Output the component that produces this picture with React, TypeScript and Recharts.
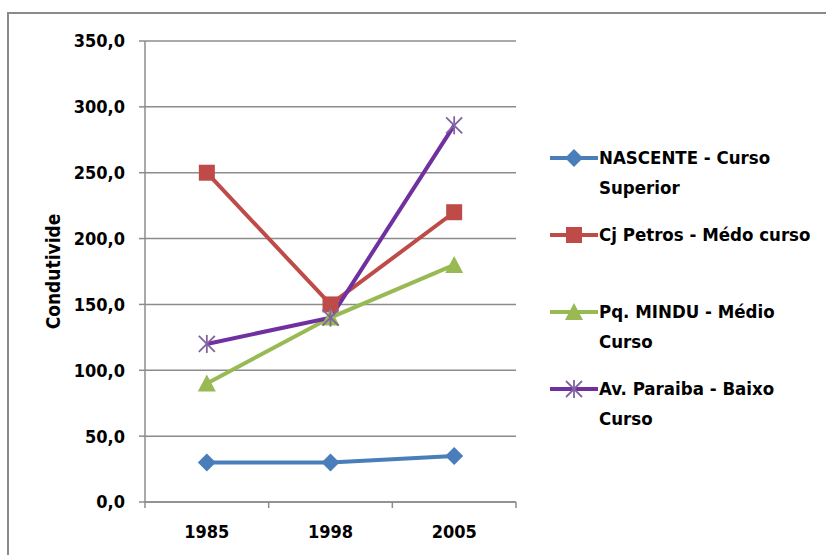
import React from "react";
import { LineChart, Line, XAxis, YAxis, CartesianGrid } from "recharts";

const YEARS = ["1985", "1998", "2005"];
const NASCENTE = [30, 30, 35];
const CJ_PETROS = [250, 150, 220];
const PQ_MINDU = [90, 140, 180];
const AV_PARAIBA = [120, 140, 286];
const SERIES_NAMES = [
  "NASCENTE - Curso Superior",
  "Cj Petros - Médo curso",
  "Pq. MINDU - Médio Curso",
  "Av. Paraiba - Baixo Curso",
];
const Y_TICKS = [0, 50, 100, 150, 200, 250, 300, 350];
const Y_LABEL = "Condutivide";

const data = YEARS.map((year, i) => ({
  year,
  s0: NASCENTE[i],
  s1: CJ_PETROS[i],
  s2: PQ_MINDU[i],
  s3: AV_PARAIBA[i],
}));

const FONT = '"Liberation Sans Narrow", "DejaVu Sans Condensed", "Open Sans", sans-serif';
const GRID = "#8c8c8c";
const PLOT_LEFT = 145;
const PLOT_RIGHT = 516;
const BAND = (PLOT_RIGHT - PLOT_LEFT) / YEARS.length;

const STYLES = [
  { line: "#4a7ebb", marker: "#4a7ebb", shape: "diamond" },
  { line: "#be4b48", marker: "#be4b48", shape: "square" },
  { line: "#98b954", marker: "#98b954", shape: "triangle" },
  { line: "#7030a0", marker: "#8064a2", shape: "star" },
];

function Marker({ cx, cy, shape, color }: { cx: number; cy: number; shape: string; color: string }) {
  if (shape === "diamond") {
    const r = 9;
    return <polygon points={`${cx},${cy - r} ${cx + r},${cy} ${cx},${cy + r} ${cx - r},${cy}`} fill={color} />;
  }
  if (shape === "square") {
    return <rect x={cx - 8} y={cy - 8} width={16} height={16} fill={color} />;
  }
  if (shape === "triangle") {
    return <polygon points={`${cx},${cy - 9} ${cx + 9},${cy + 8} ${cx - 9},${cy + 8}`} fill={color} />;
  }
  const r = 8;
  return (
    <g stroke={color} strokeWidth={1.8}>
      <line x1={cx - r} y1={cy - r} x2={cx + r} y2={cy + r} />
      <line x1={cx - r} y1={cy + r} x2={cx + r} y2={cy - r} />
      <line x1={cx} y1={cy - r - 1} x2={cx} y2={cy + r + 1} />
    </g>
  );
}

function makeDot(idx: number) {
  return (props: any) => {
    const { cx, cy, index } = props;
    if (cx == null || cy == null) return <g key={index} />;
    return (
      <g key={`d${idx}-${index}`}>
        <Marker cx={cx} cy={cy} shape={STYLES[idx].shape} color={STYLES[idx].marker} />
      </g>
    );
  };
}

function XTick(props: any) {
  const { x, y, payload, index } = props;
  const left = x - BAND / 2;
  return (
    <g>
      <line x1={left} y1={y - 6} x2={left} y2={y} stroke={GRID} strokeWidth={1.5} />
      {index === YEARS.length - 1 && (
        <line x1={x + BAND / 2} y1={y - 6} x2={x + BAND / 2} y2={y} stroke={GRID} strokeWidth={1.5} />
      )}
      <text x={x} y={y + 30} textAnchor="middle" fontFamily={FONT} fontWeight="bold" fontSize={18} fill="#000">
        {payload.value}
      </text>
    </g>
  );
}

export default function App() {
  return (
    <div style={{ position: "absolute", left: 0, top: 0, width: 826, height: 555, overflow: "hidden", background: "#fff" }}>
      <div
        style={{
          position: "absolute",
          left: 7,
          top: 12,
          width: 900,
          height: 700,
          border: "2px solid #8a8a8a",
        }}
      />
      <div style={{ position: "absolute", left: 0, top: 0 }}>
        <LineChart width={826} height={555} data={data} margin={{ top: 41, right: 310, bottom: 13, left: 0 }}>
          <CartesianGrid vertical={false} stroke={GRID} strokeWidth={1.5} />
          <XAxis
            dataKey="year"
            axisLine={{ stroke: GRID, strokeWidth: 1.5 }}
            tickLine={false}
            tickSize={6}
            tickMargin={0}
            height={40}
            interval={0}
            padding={{ left: BAND / 2, right: BAND / 2 }}
            tick={<XTick />}
          />
          <YAxis
            width={145}
            domain={[0, 350]}
            ticks={Y_TICKS}
            interval={0}
            axisLine={{ stroke: GRID, strokeWidth: 1.5 }}
            tickLine={{ stroke: GRID, strokeWidth: 1.5 }}
            tickSize={6}
            tickMargin={14}
            tickFormatter={(v: number) => v.toFixed(1).replace(".", ",")}
            tick={{ fill: "#000", fontSize: 18, fontWeight: "bold", fontFamily: FONT }}
            label={{
              value: Y_LABEL,
              angle: -90,
              position: "insideLeft",
              dx: 48,
              style: { textAnchor: "middle", fill: "#000", fontSize: 19, fontWeight: "bold", fontFamily: FONT },
            }}
          />
          {STYLES.map((s, i) => (
            <Line
              key={i}
              type="linear"
              dataKey={`s${i}`}
              name={SERIES_NAMES[i]}
              stroke={s.line}
              strokeWidth={4}
              dot={makeDot(i)}
              activeDot={false}
              isAnimationActive={false}
            />
          ))}
        </LineChart>
      </div>
      <div style={{ position: "absolute", left: 549, top: 143, fontFamily: FONT, fontWeight: "bold", fontSize: 18.5 }}>
        {SERIES_NAMES.map((name, i) => (
          <div key={i} style={{ display: "flex", alignItems: "flex-start", height: 77 }}>
            <svg width={50} height={30} style={{ flex: "none" }}>
              <line x1={1} y1={15} x2={49} y2={15} stroke={STYLES[i].line} strokeWidth={4} />
              <Marker cx={25} cy={15} shape={STYLES[i].shape} color={STYLES[i].marker} />
            </svg>
            <div style={{ width: 216, lineHeight: "30px", color: "#000" }}>{name}</div>
          </div>
        ))}
      </div>
    </div>
  );
}
